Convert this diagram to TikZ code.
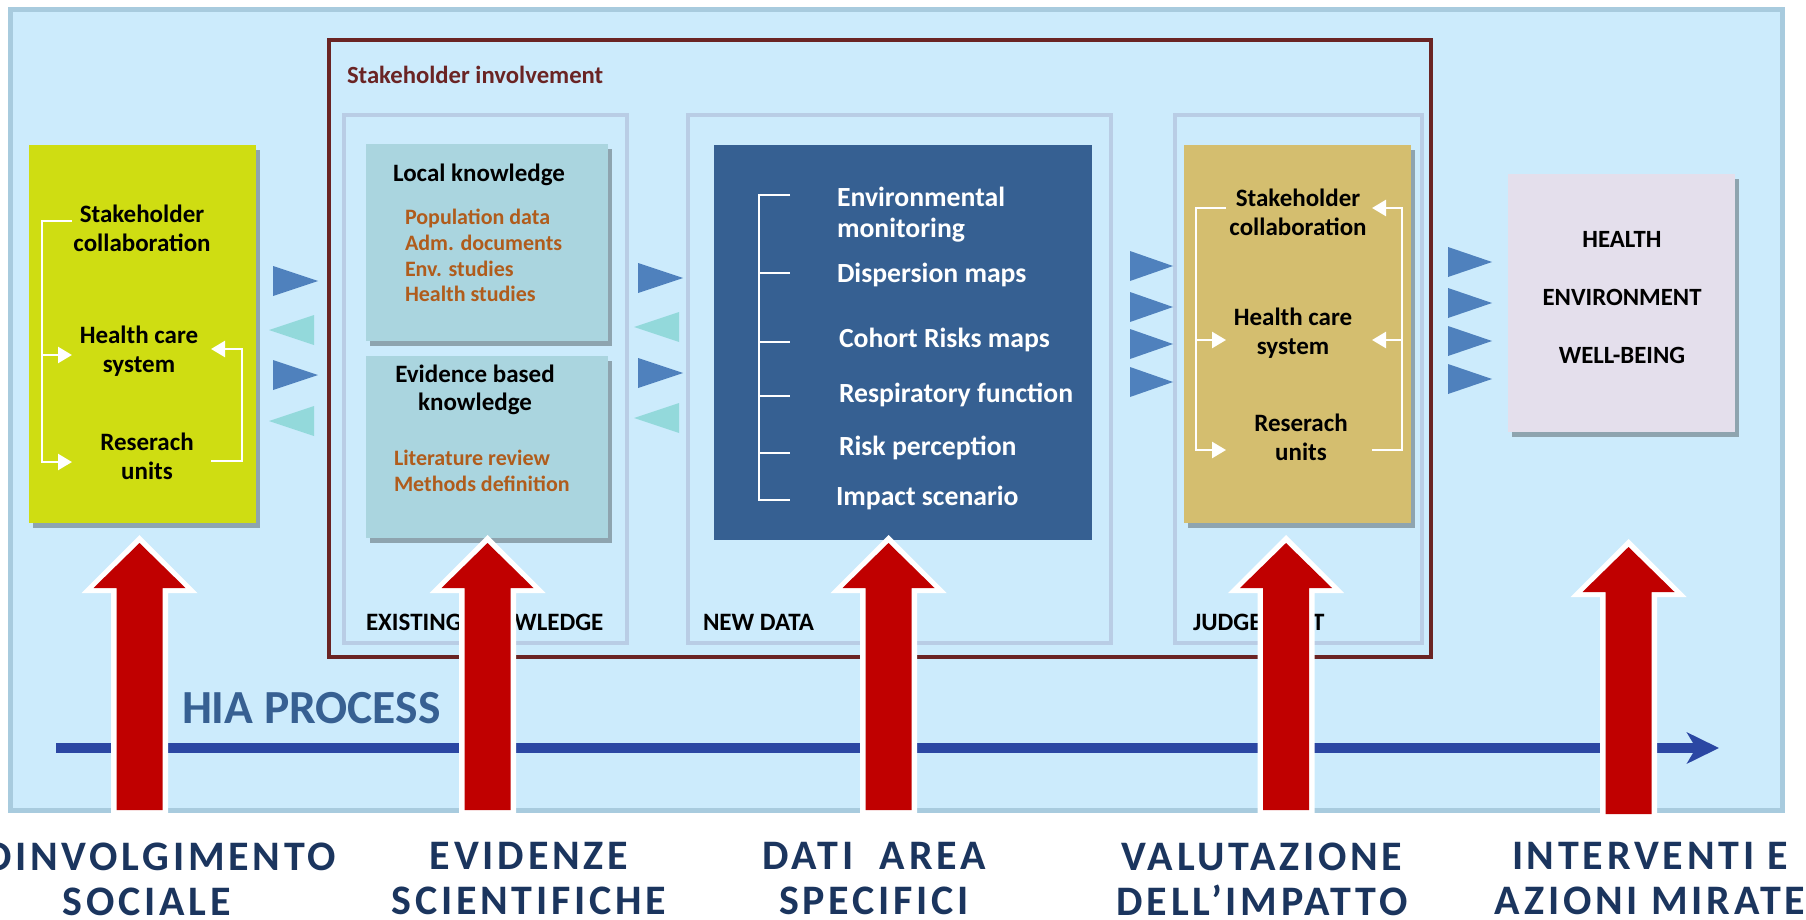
\documentclass[tikz,border=0pt]{standalone}
\usepackage{fontspec}
\setmainfont{Carlito}
\newfontfamily\labfont[LetterSpace=9]{Carlito}
\usetikzlibrary{arrows.meta,shadows}
\definecolor{bgblue}{RGB}{204,235,252}
\definecolor{bgborder}{RGB}{168,203,222}
\definecolor{panelborder}{RGB}{185,205,229}
\definecolor{maroon}{RGB}{106,36,36}
\definecolor{ygreen}{RGB}{207,221,18}
\definecolor{tealbox}{RGB}{170,213,223}
\definecolor{darkbluebox}{RGB}{54,96,146}
\definecolor{tanbox}{RGB}{212,190,111}
\definecolor{lavbox}{RGB}{228,223,236}
\definecolor{triblue}{RGB}{79,129,189}
\definecolor{tricyan}{RGB}{147,217,219}
\definecolor{browntxt}{RGB}{176,92,28}
\definecolor{arrred}{RGB}{192,0,0}
\definecolor{hiablue}{RGB}{43,71,163}
\definecolor{hiatext}{RGB}{55,96,146}
\definecolor{navy}{RGB}{27,53,94}
\begin{document}
\begin{tikzpicture}[x=1pt,y=-1pt,
  every node/.style={inner sep=0pt,outer sep=0pt},
  rect/.style={rectangle,draw=none},
  shad/.style={drop shadow={shadow xshift=4pt,shadow yshift=-5pt,fill=black,opacity=0.3}},
  frame/.style={rectangle,draw=#1,line width=4pt,fill=none},
  ttl/.style={font=\bfseries\fontsize{25}{29}\selectfont,align=center,text=black},
  itm/.style={font=\bfseries\fontsize{22}{25}\selectfont,text=browntxt,anchor=west},
  btxt/.style={font=\bfseries\fontsize{27.7}{31}\selectfont,text=white,anchor=west,align=left},
  plabel/.style={font=\bfseries\fontsize{25}{28}\selectfont,text=black,anchor=west},
  otxt/.style={font=\bfseries\fontsize{24.8}{28}\selectfont,text=black},
  blabel/.style={font=\labfont\bfseries\fontsize{42}{45}\selectfont,text=navy,align=center},
  warr/.style={draw=white,line width=2.5pt,-{Triangle[length=14pt,width=16pt]}},
  redarr/.pic={
    \fill[white] (0,-8) -- (58,50) -- (28.5,50) -- (28.5,272) -- (-28.5,272) -- (-28.5,50) -- (-58,50) -- cycle;
    \fill[arrred] (0,0) -- (46,45) -- (23,45) -- (23,267) -- (-23,267) -- (-23,45) -- (-46,45) -- cycle;
  }]
\useasboundingbox (0,0) rectangle (1806,920);
\fill[white] (0,0) rectangle (1806,920);

% outer frame
\node[rect,draw=bgborder,fill=bgblue,line width=5pt,minimum width=1772pt,minimum height=800pt] (outer) at (896,410) {};
% stakeholder involvement frame
\node[frame=maroon,minimum width=1102pt,minimum height=617pt] (involve) at (880,348.5) {};
\node[font=\bfseries\fontsize{24.7}{28}\selectfont,text=maroon,anchor=west] (involvetxt) at (347,75) {Stakeholder involvement};
% panels
\node[frame=panelborder,minimum width=283pt,minimum height=528pt] (pexist) at (485.5,379) {};
\node[frame=panelborder,minimum width=423pt,minimum height=528pt] (pnew) at (899.5,379) {};
\node[frame=panelborder,minimum width=247pt,minimum height=528pt] (pjudge) at (1298.5,379) {};

% boxes
\node[rect,fill=ygreen,shad,minimum width=227pt,minimum height=378pt] (lbox) at (142.5,334) {};
\node[rect,fill=tealbox,shad,minimum width=242pt,minimum height=197pt] (localbox) at (487,242.5) {};
\node[rect,fill=tealbox,shad,minimum width=242pt,minimum height=182pt] (evbox) at (487,447) {};
\node[rect,fill=darkbluebox,minimum width=378pt,minimum height=395pt] (newbox) at (903,342.5) {};
\node[rect,fill=tanbox,shad,minimum width=227pt,minimum height=378pt] (jbox) at (1297.5,334) {};
\node[rect,fill=lavbox,shad,minimum width=227pt,minimum height=258pt] (obox) at (1621.5,303) {};

% left box texts
\node[ttl] (ls) at (142,228) {Stakeholder\\collaboration};
\node[ttl] (lh) at (139,351) {Health care\\system};
\node[ttl] (lr) at (147,456) {Reserach\\units};
\coordinate (lsA) at (72,221);
\coordinate (lhA) at (72,355);
\coordinate (lrA) at (72,462);
\coordinate (lcorner) at (42,355);
\coordinate (lrB) at (211,461);
\coordinate (lhB) at (211,349);
\draw[warr] (lsA) -- (42,221) -- (42,462) -- (lrA);
\draw[warr] (lcorner) -- (lhA);
\draw[warr] (lrB) -- (242,461) -- (242,349) -- (lhB);

% existing knowledge texts
\node[ttl] (lk) at (479,175) {Local knowledge};
\node[itm] (i1) at (405,218) {Population data};
\node[itm] (i2) at (405,243) {Adm. documents};
\node[itm] (i3) at (405,269) {Env. studies};
\node[itm] (i4) at (405,294) {Health studies};
\node[ttl,font=\bfseries\fontsize{25}{28}\selectfont] (ev) at (475,390) {Evidence based\\knowledge};
\node[itm] (i5) at (394,458) {Literature review};
\node[itm] (i6) at (394,484) {Methods definition};

% new data texts
\node[btxt] (b1) at (837,214.5) {Environmental\\monitoring};
\node[btxt] (b2) at (837,275) {Dispersion maps};
\node[btxt] (b3) at (839,340) {Cohort Risks maps};
\node[btxt] (b4) at (839,395) {Respiratory function};
\node[btxt] (b5) at (839,448) {Risk perception};
\node[btxt] (b6) at (836,498) {Impact scenario};
\draw[white,line width=2pt] (790,195) -- (759,195) -- (759,500) -- (790,500);
\foreach \yy in {273,342,396,453} \draw[white,line width=2pt] (759,\yy) -- (790,\yy);

% judgement texts
\node[ttl] (js) at (1298,212.5) {Stakeholder\\collaboration};
\node[ttl] (jh) at (1293,333.5) {Health care\\system};
\node[ttl] (jr) at (1301,437) {Reserach\\units};
\coordinate (jsA) at (1226,208);
\coordinate (jhA) at (1226,340);
\coordinate (jrA) at (1226,450);
\coordinate (jsB) at (1372,208);
\coordinate (jhB) at (1372,340);
\coordinate (jrB) at (1372,450);
\draw[warr] (jsA) -- (1196,208) -- (1196,450) -- (jrA);
\draw[warr] (1196,340) -- (jhA);
\draw[warr] (jrB) -- (1402,450) -- (1402,208) -- (jsB);
\draw[warr] (1402,340) -- (jhB);

% outcome texts
\node[otxt] (o1) at (1622,239) {HEALTH};
\node[otxt] (o2) at (1622,297) {ENVIRONMENT};
\node[otxt] (o3) at (1622,355) {WELL-BEING};

% triangles
\foreach \cy in {281,375} \fill[triblue] (273,\cy-15) -- (318,\cy) -- (273,\cy+15) -- cycle;
\foreach \cy in {330,421} \fill[tricyan] (314,\cy-15) -- (269,\cy) -- (314,\cy+15) -- cycle;
\foreach \cy in {278,373} \fill[triblue] (638,\cy-15) -- (683,\cy) -- (638,\cy+15) -- cycle;
\foreach \cy in {327,418} \fill[tricyan] (679,\cy-15) -- (634,\cy) -- (679,\cy+15) -- cycle;
\foreach \cy in {266,307,344,382} \fill[triblue] (1130,\cy-15) -- (1173,\cy) -- (1130,\cy+15) -- cycle;
\foreach \cy in {262,303,341,379} \fill[triblue] (1448,\cy-15) -- (1492,\cy) -- (1448,\cy+15) -- cycle;

% panel labels
\node[plabel] (lex) at (366,622) {EXISTING KNOWLEDGE};
\node[plabel] (lnd) at (703,622) {NEW DATA};
\node[plabel] (ljd) at (1193,622) {JUDGEMENT};

% HIA process
\coordinate (hiaS) at (56,748);
\coordinate (hiaE) at (1719,748);
\draw[hiablue,line width=10pt,-{Stealth[length=32pt,width=31pt,inset=9pt]}] (hiaS) -- (hiaE);
\node[font=\bfseries\fontsize{47.5}{50}\selectfont,text=hiatext,anchor=west] (hiatxt) at (182,708) {HIA PROCESS};

% red arrows
\pic at (139.5,543) {redarr};
\pic at (487.5,543) {redarr};
\pic at (888.5,543) {redarr};
\pic at (1286,543) {redarr};
\pic at (1628.5,547) {redarr};

% bottom labels
\node[blabel] (s1) at (147,879) {COINVOLGIMENTO\\SOCIALE};
\node[blabel] (s2) at (529,879) {EVIDENZE\\SCIENTIFICHE};
\node[blabel] (s3) at (874,879) {DATI\ \ AREA\\SPECIFICI};
\node[blabel] (s4) at (1262,879) {VALUTAZIONE\\DELL’IMPATTO};
\node[blabel] (s5) at (1650,879) {INTERVENTI E\\AZIONI MIRATE};
\end{tikzpicture}
\end{document}
